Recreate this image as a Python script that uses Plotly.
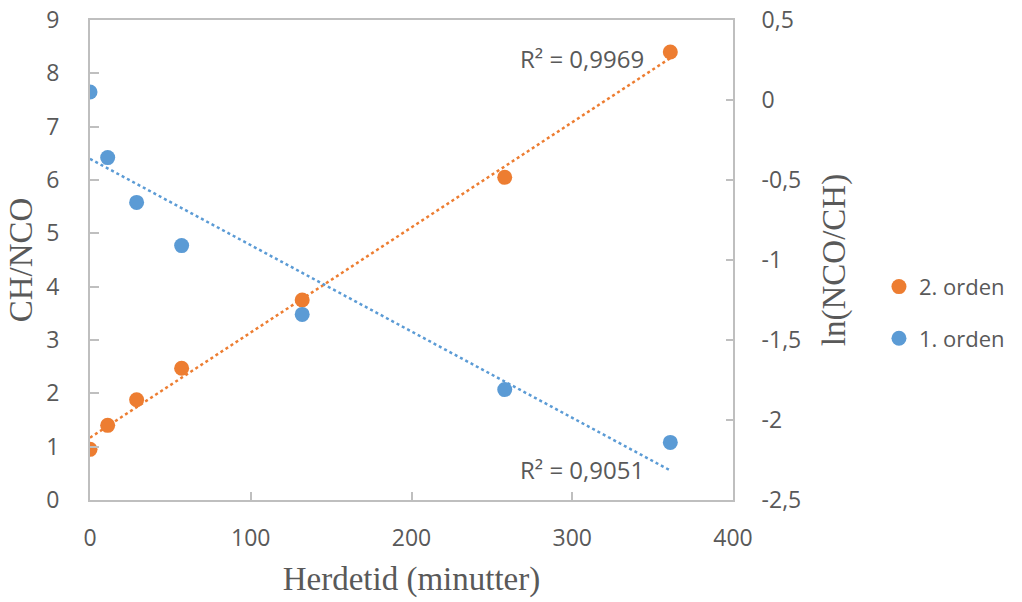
import numpy as np
import plotly.graph_objects as go

# Data
tid = [0, 11, 29, 57, 132, 258, 361]
ch_nco = [0.95, 1.4, 1.88, 2.47, 3.75, 6.05, 8.4]          # 2. orden (left axis)
ln_nco_ch = [0.05, -0.36, -0.64, -0.91, -1.34, -1.81, -2.14]  # 1. orden (right axis)

left_ticks = [0, 1, 2, 3, 4, 5, 6, 7, 8, 9]
right_ticks = [0.5, 0, -0.5, -1, -1.5, -2, -2.5]
right_ticktext = ["0,5", "0", "-0,5", "-1", "-1,5", "-2", "-2,5"]
x_ticks = [0, 100, 200, 300, 400]

ORANGE = "#ED7D31"
BLUE = "#5B9BD5"
GRAY = "#595959"
LINE = "#BFBFBF"

# linear trendlines
xt = np.array([min(tid), max(tid)], dtype=float)
p2 = np.polyfit(tid, ch_nco, 1)
p1 = np.polyfit(tid, ln_nco_ch, 1)

fig = go.Figure()
fig.add_trace(go.Scatter(x=xt, y=np.polyval(p2, xt), mode="lines",
                         line=dict(color=ORANGE, width=2.5, dash="dot"),
                         showlegend=False, hoverinfo="skip"))
fig.add_trace(go.Scatter(x=xt, y=np.polyval(p1, xt), mode="lines", yaxis="y2",
                         line=dict(color=BLUE, width=2.5, dash="dot"),
                         showlegend=False, hoverinfo="skip"))
fig.add_trace(go.Scatter(x=tid, y=ch_nco, mode="markers", name="2. orden",
                         legendgroup="a",
                         marker=dict(color=ORANGE, size=15)))
fig.add_trace(go.Scatter(x=tid, y=ln_nco_ch, mode="markers", name="1. orden",
                         legendgroup="b", yaxis="y2",
                         marker=dict(color=BLUE, size=15)))

tickfont = dict(family="Open Sans", size=23, color=GRAY)
titlefont = dict(family="Liberation Serif", size=33, color=GRAY)

fig.update_layout(
    width=1022, height=602,
    margin=dict(l=90, r=285, t=20, b=102),
    paper_bgcolor="white", plot_bgcolor="white",
    xaxis=dict(range=[0, 400], tickvals=x_ticks, showgrid=False, zeroline=False,
               showline=True, linecolor=LINE, linewidth=2, mirror=True,
               ticks="inside", ticklen=8, tickcolor=LINE, tickwidth=1.5,
               tickfont=tickfont, ticklabelstandoff=16, automargin=False,
               title=dict(text="Herdetid (minutter)", font=titlefont, standoff=15)),
    yaxis=dict(range=[0, 9], tickvals=left_ticks, showgrid=False, zeroline=False,
               showline=True, linecolor=LINE, linewidth=2,
               ticks="inside", ticklen=9, tickcolor=LINE, tickwidth=1.5,
               tickfont=tickfont, ticklabelstandoff=24, automargin=False,
               title=dict(text="CH/NCO", font=titlefont, standoff=4)),
    yaxis2=dict(range=[-2.5, 0.5], tickvals=right_ticks, ticktext=right_ticktext,
                overlaying="y", side="right", showgrid=False, zeroline=False,
                showline=True, linecolor=LINE, linewidth=2,
                ticks="inside", ticklen=7, tickcolor=LINE, tickwidth=1.5,
                tickfont=tickfont, ticklabelstandoff=22, automargin=False,
                title=dict(text="ln(NCO/CH)", font=titlefont, standoff=22)),
    legend=dict(x=1.227, y=0.39, xanchor="left", yanchor="middle",
                font=dict(family="Open Sans", size=22, color=GRAY),
                tracegroupgap=20, itemwidth=30, bgcolor="rgba(0,0,0,0)"),
    showlegend=True,
    annotations=[
        dict(x=346, y=8.27, xref="x", yref="y", text="R² = 0,9969", showarrow=False,
             xanchor="right", yanchor="middle",
             font=dict(family="Open Sans", size=24, color=GRAY)),
        dict(x=346, y=-2.31, xref="x", yref="y2", text="R² = 0,9051", showarrow=False,
             xanchor="right", yanchor="middle",
             font=dict(family="Open Sans", size=24, color=GRAY)),
    ],
)

fig.write_html("out.html")
